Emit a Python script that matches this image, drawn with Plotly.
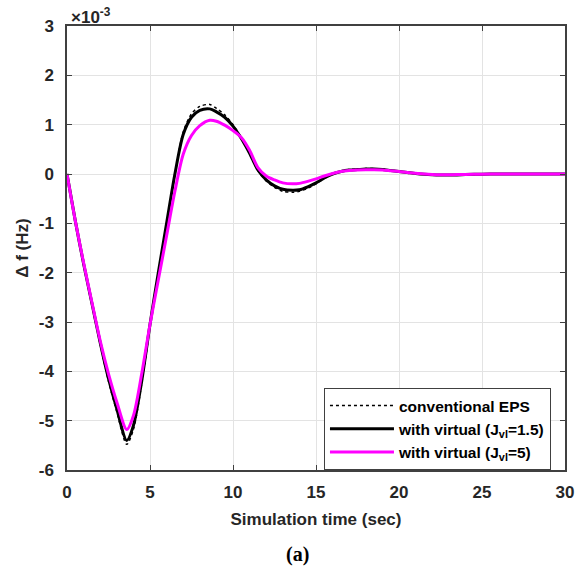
import plotly.graph_objects as go

# time (sec)
time_s = [0, 0.5, 1, 1.5, 2, 2.5, 3, 3.6, 4, 4.5, 5, 5.5, 6, 6.5, 7, 7.5, 8, 8.6,
          9, 9.5, 10, 10.5, 11, 11.5, 12, 12.5, 13, 13.6, 14, 14.5, 15, 15.5, 16,
          16.5, 17, 17.5, 18, 18.5, 19, 19.5, 20, 20.5, 21, 21.5, 22, 22.5, 23,
          23.5, 24, 25, 26, 27, 28, 29, 30]

# delta f in units of 1e-3 Hz
conventional = [0, -0.97, -1.85, -2.65, -3.45, -4.2, -4.82, -5.48, -5.18, -4.25, -3.1,
                -2.03, -1.02, 0.0, 0.85, 1.22, 1.37, 1.41, 1.33, 1.2, 1.0, 0.74, 0.42,
                0.07, -0.14, -0.27, -0.35, -0.37, -0.35, -0.29, -0.2, -0.09, 0.0,
                0.06, 0.09, 0.1, 0.11, 0.11, 0.1, 0.08, 0.055, 0.03, 0.01, -0.005,
                -0.018, -0.024, -0.025, -0.02, -0.013, -0.005, 0.0, 0.003, 0.003,
                0.001, 0.0]
virtual_j15 = [0, -0.95, -1.82, -2.62, -3.42, -4.15, -4.76, -5.4, -5.1, -4.2, -3.05,
               -2.0, -1.0, 0.0, 0.8, 1.15, 1.29, 1.32, 1.26, 1.15, 0.97, 0.72, 0.42,
               0.08, -0.12, -0.24, -0.31, -0.33, -0.32, -0.26, -0.18, -0.08, 0.0,
               0.05, 0.08, 0.09, 0.1, 0.1, 0.09, 0.07, 0.05, 0.03, 0.01, -0.005,
               -0.015, -0.02, -0.02, -0.018, -0.012, -0.004, 0.0, 0.002, 0.002,
               0.0, 0.0]
virtual_j5 = [0, -0.95, -1.8, -2.6, -3.38, -4.05, -4.62, -5.18, -4.9, -4.05, -3.05,
              -2.15, -1.25, -0.35, 0.4, 0.78, 0.98, 1.09, 1.07, 0.99, 0.88, 0.74, 0.48,
              0.13, -0.04, -0.12, -0.18, -0.2, -0.19, -0.15, -0.1, -0.04, 0.01,
              0.05, 0.07, 0.08, 0.085, 0.085, 0.08, 0.065, 0.05, 0.03, 0.015, 0.0,
              -0.01, -0.015, -0.015, -0.012, -0.008, -0.003, 0.0, 0.001, 0.001,
              0.0, 0.0]

x_ticks = [0, 5, 10, 15, 20, 25, 30]
y_ticks = [3, 2, 1, 0, -1, -2, -3, -4, -5, -6]

fig = go.Figure()
fig.add_trace(go.Scatter(x=time_s, y=conventional, mode="lines",
                         name="<b>conventional EPS</b>",
                         line=dict(color="black", width=1.5, dash="dot",
                                   shape="spline", smoothing=0.8)))
fig.add_trace(go.Scatter(x=time_s, y=virtual_j15, mode="lines",
                         name="<b>with virtual (J<sub>vl</sub>=1.5)</b>",
                         line=dict(color="black", width=3,
                                   shape="spline", smoothing=0.8)))
fig.add_trace(go.Scatter(x=time_s, y=virtual_j5, mode="lines",
                         name="<b>with virtual (J<sub>vl</sub>=5)</b>",
                         line=dict(color="#ff00ff", width=3,
                                   shape="spline", smoothing=0.8)))

axis_common = dict(showline=True, linecolor="#404040", linewidth=1.5, mirror="ticks",
                   ticks="inside", ticklen=5, tickcolor="#404040",
                   showgrid=True, gridcolor="#e3e3e3", gridwidth=1, zeroline=False,
                   tickfont=dict(family="Liberation Sans", size=17, color="#262626"))

fig.update_layout(
    width=587, height=573,
    margin=dict(l=67, r=22, t=26, b=103),
    plot_bgcolor="white", paper_bgcolor="white",
    font=dict(family="Liberation Sans", color="#262626"),
    xaxis=dict(range=[0, 30], tickvals=x_ticks,
               ticktext=["<b>%d</b>" % v for v in x_ticks],
               ticklabelstandoff=6,
               title=dict(text="<b>Simulation time (sec)</b>",
                          font=dict(size=17, color="#262626"), standoff=12),
               **axis_common),
    yaxis=dict(range=[-6, 3], tickvals=y_ticks,
               ticktext=["<b>%d</b>" % v for v in y_ticks],
               ticklabelstandoff=8,
               title=dict(text="<b>Δ f (Hz)</b>",
                          font=dict(size=17, color="#262626"), standoff=6),
               **axis_common),
    legend=dict(x=0.516, y=0, xanchor="left", yanchor="bottom",
                bgcolor="white", bordercolor="#404040", borderwidth=1,
                font=dict(family="Liberation Sans", size=15.5, color="black"),
                itemwidth=64, tracegroupgap=0),
    showlegend=True,
)

fig.add_annotation(x=0, y=1, xref="paper", yref="paper", xanchor="left", yanchor="bottom",
                   text="<b>×10<sup>-3</sup></b>", showarrow=False, xshift=2, yshift=-3,
                   font=dict(family="Liberation Sans", size=17, color="#262626"))
fig.add_annotation(x=0.462, y=-0.19, xref="paper", yref="paper", xanchor="center",
                   yanchor="middle", text="<b>(a)</b>", showarrow=False,
                   font=dict(family="Liberation Serif", size=20, color="black"))

fig.write_html("out.html")
